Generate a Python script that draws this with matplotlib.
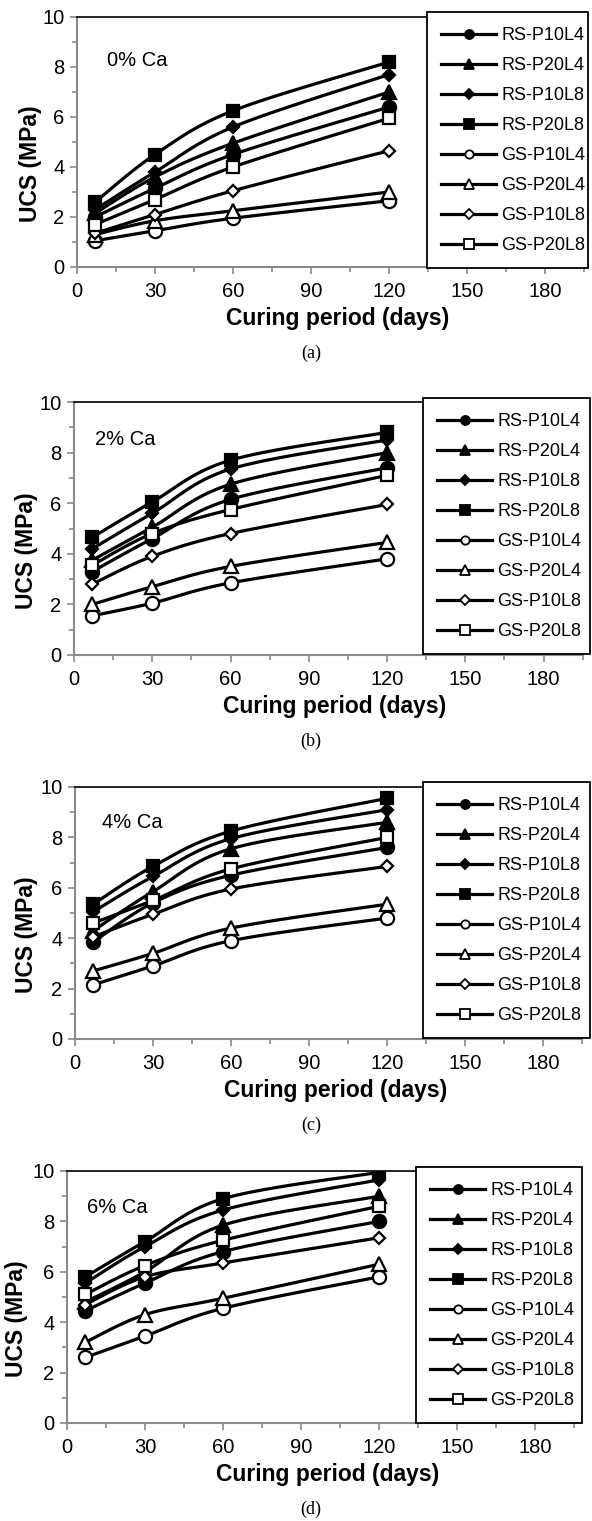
import numpy as np
import matplotlib
matplotlib.use("Agg")
import matplotlib.pyplot as plt
from matplotlib.lines import Line2D

plt.rcParams['font.family'] = ['Liberation Sans', 'DejaVu Sans']

# Curing periods (days)
days = [7, 30, 60, 120]

series_names = ["RS-P10L4", "RS-P20L4", "RS-P10L8", "RS-P20L8",
                "GS-P10L4", "GS-P20L4", "GS-P10L8", "GS-P20L8"]

# UCS (MPa) per mix, rows follow series_names
ucs_0_ca = [
    [2.00, 3.15, 4.50, 6.40],
    [2.15, 3.60, 4.95, 7.00],
    [2.30, 3.80, 5.60, 7.70],
    [2.60, 4.50, 6.25, 8.20],
    [1.05, 1.45, 1.95, 2.65],
    [1.30, 1.85, 2.25, 3.00],
    [1.35, 2.10, 3.05, 4.65],
    [1.70, 2.70, 4.00, 5.95],
]
ucs_2_ca = [
    [3.30, 4.60, 6.15, 7.40],
    [3.75, 5.05, 6.75, 8.00],
    [4.20, 5.60, 7.35, 8.50],
    [4.65, 6.05, 7.70, 8.80],
    [1.55, 2.05, 2.85, 3.80],
    [2.00, 2.70, 3.50, 4.45],
    [2.80, 3.90, 4.80, 5.95],
    [3.55, 4.80, 5.75, 7.10],
]
ucs_4_ca = [
    [3.85, 5.40, 6.50, 7.60],
    [4.30, 5.85, 7.55, 8.60],
    [5.05, 6.45, 7.95, 9.10],
    [5.35, 6.85, 8.25, 9.55],
    [2.15, 2.90, 3.90, 4.80],
    [2.70, 3.40, 4.40, 5.35],
    [4.05, 4.95, 5.95, 6.85],
    [4.60, 5.50, 6.75, 8.00],
]
ucs_6_ca = [
    [4.45, 5.55, 6.80, 8.00],
    [4.80, 6.00, 7.85, 9.00],
    [5.55, 7.00, 8.45, 9.65],
    [5.80, 7.20, 8.90, 9.95],
    [2.60, 3.45, 4.55, 5.80],
    [3.20, 4.30, 4.95, 6.30],
    [4.70, 5.80, 6.35, 7.35],
    [5.10, 6.25, 7.25, 8.60],
]

panel_titles = ["0% Ca", "2% Ca", "4% Ca", "6% Ca"]
panel_tags = ["(a)", "(b)", "(c)", "(d)"]
panel_data = [ucs_0_ca, ucs_2_ca, ucs_4_ca, ucs_6_ca]

# marker, filled, plot size, legend size
styles = [
    ("o", True, 9.5, 6.5),
    ("^", True, 10.0, 7.0),
    ("D", True, 6.6, 4.6),
    ("s", True, 9.0, 7.0),
    ("o", False, 9.5, 6.0),
    ("^", False, 10.0, 6.5),
    ("D", False, 6.4, 4.6),
    ("s", False, 8.5, 6.5),
]

W, H = 592, 1521
fig = plt.figure(figsize=(W / 100, H / 100), dpi=100)

# pixel layout of each panel: left, x-position of 120 days, top, bottom
layout = [
    (77, 389, 17, 267),
    (74, 387, 402, 655),
    (75, 387, 787, 1039),
    (67, 379, 1171, 1423),
]
legend_boxes = [
    (427, 588, 14),
    (423, 590, 400),
    (423, 590, 784),
    (416, 582, 1169),
]
ylabel_x = [31, 27, 26, 17]
title_pos = [(11.5, 8.25), (8.0, 8.5), (10.4, 8.6), (7.7, 8.57)]

XMAX = 195
GRAY = "#8a8a8a"


def smooth_curve(xs, ys, n=40):
    """Bezier smoothing through the points (Catmull-Rom control points)."""
    P = np.column_stack([xs, ys]).astype(float)
    m = len(P)
    out = []
    t = np.linspace(0, 1, n)[:, None]
    for i in range(m - 1):
        p0 = P[i - 1] if i > 0 else P[i]
        p1 = P[i]
        p2 = P[i + 1]
        p3 = P[i + 2] if i + 2 < m else P[i + 1]
        c1 = p1 + (p2 - p0) / 6.0
        c2 = p2 - (p3 - p1) / 6.0
        seg = ((1 - t) ** 3) * p1 + 3 * ((1 - t) ** 2) * t * c1 \
            + 3 * (1 - t) * t ** 2 * c2 + t ** 3 * p2
        out.append(seg if i == 0 else seg[1:])
    c = np.vstack(out)
    return c[:, 0], c[:, 1]


for k in range(4):
    L, x120, T, B = layout[k]
    s = (x120 - L) / 120.0
    R = L + XMAX * s
    ax = fig.add_axes([L / W, 1 - B / H, (R - L) / W, (B - T) / H])
    ax.set_xlim(0, XMAX)
    ax.set_ylim(0, 10)

    for j, vals in enumerate(panel_data[k]):
        mk, filled, msz, _ = styles[j]
        cx, cy = smooth_curve(days, vals)
        z = 2 + j * 0.1
        ax.plot(cx, cy, color="black", lw=2.3, solid_capstyle="round", zorder=z)
        ax.plot(days, vals, linestyle="none", marker=mk, markersize=msz,
                markerfacecolor="black" if filled else "white",
                markeredgecolor="black", markeredgewidth=1.6, zorder=z + 0.05)

    ax.text(*title_pos[k], panel_titles[k], fontsize=14.5, ha="left", va="center")

    ax.set_xticks(np.arange(0, 181, 30))
    ax.set_xticks(np.arange(15, XMAX + 1, 15), minor=True)
    ax.set_yticks(np.arange(0, 11, 2))
    ax.set_yticks(np.arange(1, 10, 2), minor=True)
    ax.tick_params(axis="both", which="major", direction="out", length=5,
                   width=1.2, color=GRAY, labelsize=14.5)
    ax.tick_params(axis="both", which="minor", direction="out", length=3.5,
                   width=1.2, color=GRAY)
    ax.tick_params(axis="x", pad=6)
    ax.tick_params(axis="y", pad=4)
    for side in ("left", "bottom"):
        ax.spines[side].set_color(GRAY)
        ax.spines[side].set_linewidth(1.5)
    for side in ("top", "right"):
        ax.spines[side].set_color("black")
        ax.spines[side].set_linewidth(1.2)

    # axis titles
    fig.text(ylabel_x[k] / W, 1 - ((T + B) / 2 + 22) / H, "UCS (MPa)",
             rotation=90, ha="center", va="center", fontsize=16.5,
             fontweight="bold")
    fig.text((L + 261) / W, 1 - (B + 52) / H, "Curing period (days)",
             ha="center", va="center", fontsize=16.5, fontweight="bold")
    fig.text(311 / W, 1 - (B + 86) / H, panel_tags[k], ha="center",
             va="center", fontsize=13, family=["Liberation Serif", "DejaVu Serif"])

    # legend
    handles = []
    for j, name in enumerate(series_names):
        mk, filled, _, lsz = styles[j]
        handles.append(Line2D([], [], color="black", lw=2.3, marker=mk,
                              markersize=lsz,
                              markerfacecolor="black" if filled else "white",
                              markeredgecolor="black", markeredgewidth=1.3))
    lx0, lx1, ly0 = legend_boxes[k]
    leg = fig.legend(handles, series_names, loc="upper left",
                     bbox_to_anchor=(lx0 / W, 1 - ly0 / H, (lx1 - lx0) / W, 0.001),
                     mode="expand", fontsize=13, handlelength=3.0,
                     handletextpad=0.3, labelspacing=0.72, borderpad=0.8,
                     borderaxespad=0.0, fancybox=False, framealpha=1,
                     edgecolor="black", numpoints=1)
    leg.get_frame().set_linewidth(1.3)

fig.savefig("out.png", dpi=100)
